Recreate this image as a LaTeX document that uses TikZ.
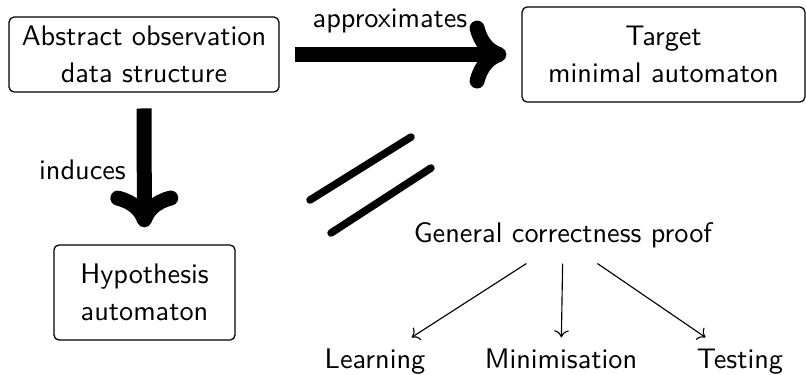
\documentclass[tikz,border=0pt]{standalone}
\usetikzlibrary{arrows.meta}
\begin{document}
\begin{tikzpicture}[x=0.3534pt,y=-0.3534pt,
  every node/.style={font=\sffamily\fontsize{10pt}{13pt}\selectfont},
  box/.style={draw, rounded corners=1.8pt, align=center, inner sep=0pt, line width=0.45pt},
  bigarrow/.style={line width=5.3pt, -{Computer Modern Rightarrow[round,length=13pt,width=24pt]}},
  thinarrow/.style={line width=0.4pt, ->},
  slash/.style={line width=2.65pt, line cap=round},
  leaf/.style={anchor=base, text height=6.94pt, text depth=1.94pt, inner ysep=3.7pt},
  lbl/.style={anchor=base}]
\useasboundingbox (0,0) rectangle (806,374);
\node[box, minimum width=95.4pt, minimum height=26.5pt] (obs) at (144,54.5) {Abstract observation\\data structure};
\node[box, minimum width=100pt, minimum height=33.6pt] (tgt) at (663.5,54.5) {Target\\minimal automaton};
\node[box, minimum width=64pt, minimum height=33.6pt] (hyp) at (144.5,292.5) {Hypothesis\\automaton};
\draw[bigarrow, shorten <=5.6pt, shorten >=5.3pt] (obs) -- (tgt);
\node[lbl] (approx) at (390,27) {approximates};
\draw[bigarrow, shorten <=5.6pt, shorten >=6pt] (obs) -- (hyp);
\node[lbl] (ind) at (82.5,179) {induces};
\draw[slash] (310,200) -- (411,137);
\draw[slash] (331,233) -- (431,168);
\node[anchor=base, text height=6.94pt, text depth=5.5pt, inner ysep=1.9pt] (gcp) at (563,242) {General correctness proof};
\node[leaf] (learn) at (375,368) {Learning};
\node[leaf] (mini) at (561,368) {Minimisation};
\node[leaf] (test) at (740,368) {Testing};
\draw[thinarrow] (gcp) -- (learn);
\draw[thinarrow] (gcp) -- (mini);
\draw[thinarrow] (gcp) -- (test);
\end{tikzpicture}
\end{document}
